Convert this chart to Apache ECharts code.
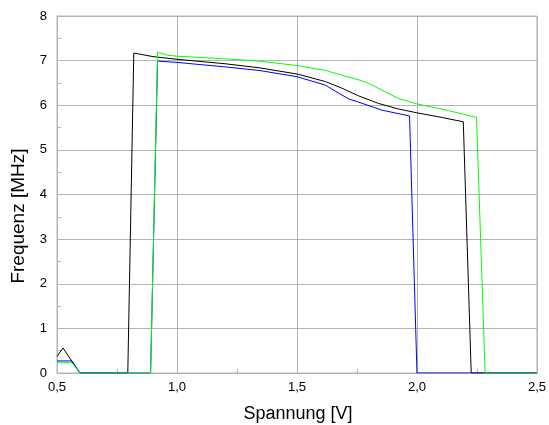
<!DOCTYPE html>
<html>
<head>
<meta charset="utf-8">
<script src="https://cdn.jsdelivr.net/npm/echarts@6/dist/echarts.min.js"></script>
<style>
  html, body { margin: 0; padding: 0; background: #ffffff; }
  #chart { width: 549px; height: 425px; }
</style>
</head>
<body>
<div id="chart"></div>
<script>
// Frequency vs. voltage for three measurement runs
const blackVoltage = [0.5, 0.525, 0.595, 0.795, 0.82, 0.9, 1.0, 1.1, 1.2, 1.342, 1.5, 1.55, 1.619, 1.688, 1.757, 1.84, 1.92, 2.0, 2.1, 2.193, 2.226, 2.5];
const blackFreq    = [0.37, 0.56, 0, 0, 7.17, 7.09, 7.03, 6.98, 6.93, 6.84, 6.70, 6.63, 6.53, 6.38, 6.21, 6.04, 5.92, 5.83, 5.73, 5.63, 0, 0];

const blueVoltage = [0.5, 0.562, 0.595, 0.89, 0.919, 1.0, 1.1, 1.2, 1.342, 1.5, 1.619, 1.674, 1.716, 1.757, 1.854, 1.969, 2.0, 2.5];
const blueFreq    = [0.27, 0.27, 0, 0, 6.99, 6.96, 6.91, 6.86, 6.78, 6.64, 6.45, 6.27, 6.14, 6.07, 5.89, 5.76, 0, 0];

const greenVoltage = [0.5, 0.562, 0.595, 0.89, 0.919, 0.96, 1.0, 1.1, 1.2, 1.342, 1.5, 1.619, 1.716, 1.757, 1.799, 1.854, 1.923, 2.0, 2.131, 2.248, 2.284, 2.5];
const greenFreq    = [0.23, 0.23, 0, 0, 7.19, 7.12, 7.10, 7.07, 7.04, 6.99, 6.89, 6.78, 6.63, 6.57, 6.49, 6.34, 6.15, 6.03, 5.88, 5.73, 0, 0];

const xTitle = 'Spannung [V]';
const yTitle = 'Frequenz [MHz]';

function pairs(xs, ys) { return xs.map((x, i) => [x, ys[i]]); }

const gridColor = '#b4b4b4';
const fontFamily = 'Liberation Sans, Arial, sans-serif';

const chart = echarts.init(document.getElementById('chart'), null, { renderer: 'canvas' });
chart.setOption({
  animation: false,
  backgroundColor: '#ffffff',
  grid: { left: 57, right: 10, top: 16, bottom: 52, show: true, borderColor: gridColor, borderWidth: 1, backgroundColor: 'transparent' },
  xAxis: {
    type: 'value', min: 0.5, max: 2.5, interval: 0.5,
    axisLine: { show: true, lineStyle: { color: gridColor } },
    axisTick: { show: true, inside: true, length: 4, lineStyle: { color: gridColor } },
    minorTick: { show: true, splitNumber: 2, length: 4, lineStyle: { color: gridColor } },
    splitLine: { show: true, lineStyle: { color: gridColor, width: 1 } },
    axisLabel: { fontFamily, fontSize: 13, color: '#000', margin: 8,
      formatter: v => v.toFixed(1).replace('.', ',') }
  },
  yAxis: {
    type: 'value', min: 0, max: 8, interval: 1,
    axisLine: { show: true, lineStyle: { color: gridColor } },
    axisTick: { show: true, inside: true, length: 4, lineStyle: { color: gridColor } },
    minorTick: { show: true, splitNumber: 2, length: 4, lineStyle: { color: gridColor } },
    splitLine: { show: true, lineStyle: { color: gridColor, width: 1 } },
    axisLabel: { fontFamily, fontSize: 13, color: '#000', margin: 10 }
  },
  graphic: [
    { type: 'text', x: 298, y: 414,
      style: { text: xTitle, fontFamily, fontSize: 18, fill: '#000', align: 'center', verticalAlign: 'middle' } },
    { type: 'text', x: 19, y: 216, rotation: Math.PI / 2,
      style: { text: yTitle, fontFamily, fontSize: 19, fill: '#000', align: 'center', verticalAlign: 'middle' } }
  ],
  series: [
    { type: 'line', data: pairs(blackVoltage, blackFreq), showSymbol: false, lineStyle: { color: '#000000', width: 1 } },
    { type: 'line', data: pairs(blueVoltage, blueFreq), showSymbol: false, lineStyle: { color: '#0000ff', width: 1 } },
    { type: 'line', data: pairs(greenVoltage, greenFreq), showSymbol: false, lineStyle: { color: '#00ff00', width: 1 } }
  ]
});
</script>
</body>
</html>
